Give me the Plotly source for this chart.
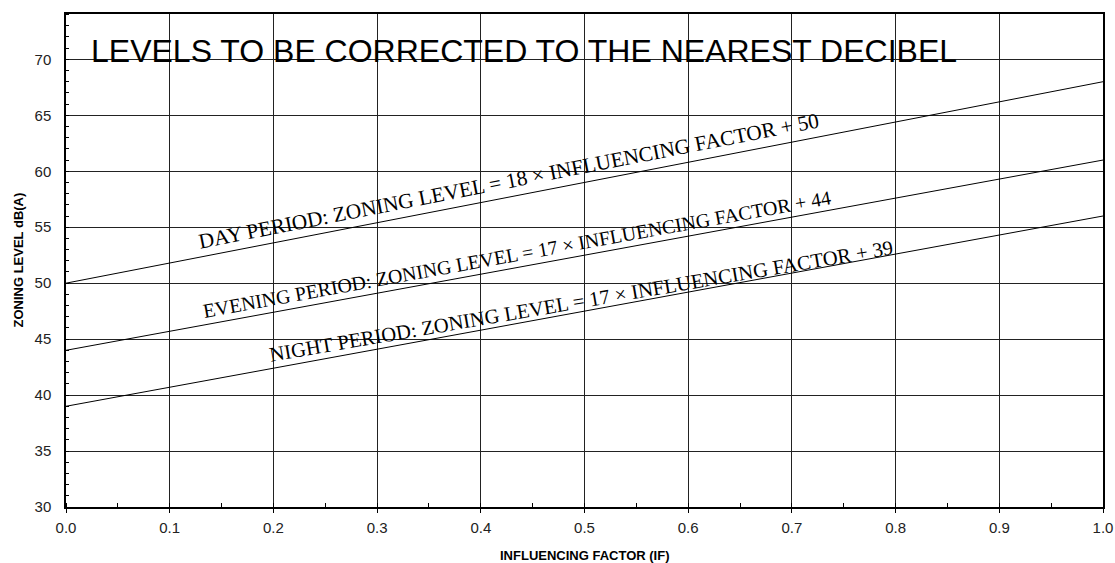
import plotly.graph_objects as go

# Data
influencing_factor = [0.0, 1.0]
day_level = [50, 68]
evening_level = [44, 61]
night_level = [39, 56]

x_ticks = [0.0, 0.1, 0.2, 0.3, 0.4, 0.5, 0.6, 0.7, 0.8, 0.9, 1.0]
y_ticks = [30, 35, 40, 45, 50, 55, 60, 65, 70]

title_text = "LEVELS TO BE CORRECTED TO THE NEAREST DECIBEL"
day_label = "DAY PERIOD: ZONING LEVEL = 18 × INFLUENCING FACTOR + 50"
evening_label = "EVENING PERIOD: ZONING LEVEL = 17 × INFLUENCING FACTOR + 44"
night_label = "NIGHT PERIOD: ZONING LEVEL = 17 × INFLUENCING FACTOR + 39"

fig = go.Figure()
for name, ys in [("Day", day_level), ("Evening", evening_level), ("Night", night_level)]:
    fig.add_trace(go.Scatter(x=influencing_factor, y=ys, mode="lines", name=name,
                             line=dict(color="black", width=1), showlegend=False))

serif = "Liberation Serif, Times New Roman, serif"
ann = [
    dict(x=0.022, y=70.75, text=title_text, xanchor="left", yanchor="middle",
         font=dict(family="Liberation Sans, Arial, sans-serif", size=32, color="black")),
    dict(x=0.427, y=59.13, text=day_label, textangle=-11.1,
         font=dict(family=serif, size=21.3, color="black")),
    dict(x=0.435, y=52.61, text=evening_label, textangle=-10.3,
         font=dict(family=serif, size=19.9, color="black")),
    dict(x=0.497, y=48.41, text=night_label, textangle=-9.8,
         font=dict(family=serif, size=20.6, color="black")),
]
for a in ann:
    a.update(xref="x", yref="y", showarrow=False)
ann.append(dict(x=0.5, y=-0.0, xref="paper", yref="paper", yshift=-48, showarrow=False,
                text="<b>INFLUENCING FACTOR (IF)</b>", xanchor="center", yanchor="middle",
                font=dict(family="Liberation Sans, Arial, sans-serif", size=13, color="black")))
ann.append(dict(x=0.0, y=0.5, xref="paper", yref="paper", xshift=-48, showarrow=False,
                text="<b>ZONING LEVEL dB(A)</b>", xanchor="center", yanchor="middle", textangle=-90,
                font=dict(family="Liberation Sans, Arial, sans-serif", size=13, color="black")))
fig.update_layout(annotations=ann)

fig.update_layout(
    width=1115, height=563,
    margin=dict(l=66, r=12, t=14, b=56, autoexpand=False),
    paper_bgcolor="white", plot_bgcolor="white",
    font=dict(family="Liberation Sans, Arial, sans-serif", color="#222"),
)
fig.update_xaxes(
    range=[0, 1], tickvals=x_ticks, ticktext=[f"{v:.1f}" for v in x_ticks],
    showgrid=True, gridcolor="#222", gridwidth=1, automargin=False,
    showline=True, linecolor="black", linewidth=1.5, mirror=True,
    ticks="outside", ticklen=4, tickcolor="black",
    tickfont=dict(size=15, color="#222"), ticklabeloverflow="allow", ticklabelstandoff=2,
    minor=dict(dtick=0.05, tick0=0, ticks="inside", ticklen=4, tickcolor="black", showgrid=False),
    zeroline=False,
)
fig.update_yaxes(
    range=[30, 74.05], tickvals=y_ticks, automargin=False,
    showgrid=True, gridcolor="#222", gridwidth=1,
    showline=True, linecolor="black", linewidth=1.5, mirror=True,
    ticks="", tickfont=dict(size=15, color="#222"), ticklabeloverflow="allow", ticklabelstandoff=10,
    minor=dict(dtick=1, tick0=30, ticks="inside", ticklen=3, tickcolor="black", showgrid=False),
    zeroline=False,
)

fig.write_html("out.html", config={"displayModeBar": False},
               post_script="document.body.style.margin='0';document.body.style.overflow='hidden';")
